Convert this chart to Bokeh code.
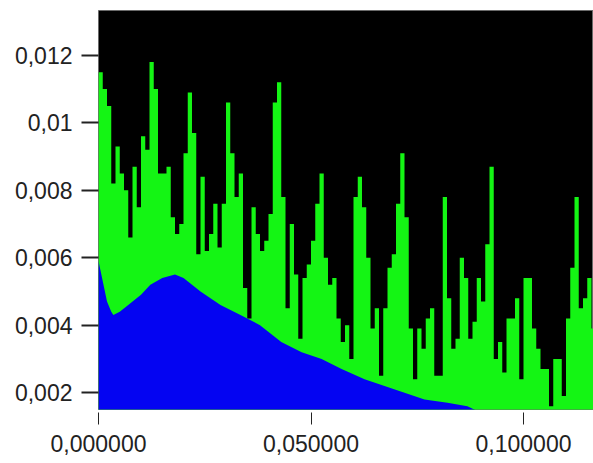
import numpy as np
from bokeh.plotting import figure
from bokeh.models import Range1d, FixedTicker
from bokeh.embed import file_html
from bokeh.resources import INLINE

# Green spectrum: one value per 0.001 frequency bin, starting at 0
green_step = 0.001
green_vals = [
    0.0115, 0.0110, 0.0105, 0.0082, 0.0093, 0.0085, 0.0080, 0.0066, 0.0087, 0.0075,
    0.0096, 0.0092, 0.0118, 0.0110, 0.0085, 0.0085, 0.0087, 0.0072, 0.0067, 0.0070,
    0.0091, 0.0109, 0.0097, 0.0061, 0.0084, 0.0062, 0.0067, 0.0076, 0.0063, 0.0076,
    0.0106, 0.0091, 0.0078, 0.0085, 0.0051, 0.0042, 0.0075, 0.0067, 0.0062, 0.0065,
    0.0073, 0.0106, 0.0112, 0.0078, 0.0045, 0.0070, 0.0055, 0.0036, 0.0054, 0.0058,
    0.0065, 0.0076, 0.0085, 0.0060, 0.0052, 0.0054, 0.0042, 0.0035, 0.0040, 0.0030,
    0.0078, 0.0084, 0.0075, 0.0060, 0.0039, 0.0045, 0.0025, 0.0045, 0.0057, 0.0061,
    0.0076, 0.0091, 0.0072, 0.0039, 0.0024, 0.0039, 0.0033, 0.0042, 0.0045, 0.0025,
    0.0025, 0.0078, 0.0048, 0.0033, 0.0036, 0.0060, 0.0054, 0.0036, 0.0041, 0.0054,
    0.0047, 0.0064, 0.0087, 0.0030, 0.0035, 0.0026, 0.0042, 0.0042, 0.0048, 0.0024,
    0.0054, 0.0054, 0.0039, 0.0033, 0.0027, 0.0027, 0.0016, 0.0030, 0.0030, 0.0019,
    0.0042, 0.0057, 0.0078, 0.0045, 0.0048, 0.0054, 0.0039,
]

# Blue smooth envelope
blue_x = [0.0, 0.001, 0.002, 0.003, 0.0035, 0.005, 0.007, 0.010, 0.0122, 0.015,
          0.018, 0.020, 0.024, 0.0287, 0.0334, 0.038, 0.043, 0.0478, 0.0525, 0.0572,
          0.0626, 0.0673, 0.072, 0.0767, 0.0821, 0.0868, 0.090, 0.1165]
blue_y = [0.0059, 0.0053, 0.0047, 0.0044, 0.0043, 0.0044, 0.0046, 0.0049, 0.0052, 0.0054,
          0.0055, 0.0054, 0.0050, 0.0046, 0.0043, 0.0040, 0.0035, 0.0032, 0.0030, 0.0027,
          0.0024, 0.0022, 0.0020, 0.0018, 0.0017, 0.0016, 0.0014, 0.0010]

x_ticks = [0.0, 0.05, 0.1]
x_labels = ["0,000000", "0,050000", "0,100000"]
y_ticks = [0.002, 0.004, 0.006, 0.008, 0.01, 0.012]
y_labels = ["0,002", "0,004", "0,006", "0,008", "0,01", "0,012"]

# bin edges for the stepped green fill (last value repeated to close the final bin)
green_x = np.arange(len(green_vals) + 1) * green_step
green_y = list(green_vals) + [green_vals[-1]]

p = figure(width=593, height=463, output_backend="svg", toolbar_location=None,
           x_range=Range1d(0.0, 0.11647), y_range=Range1d(0.0015, 0.01333),
           min_border_left=98, min_border_right=0, min_border_top=10, min_border_bottom=54)
p.border_fill_color = "white"
p.background_fill_color = "black"
p.outline_line_color = "#6a6a6a"
p.outline_line_width = 1
p.grid.visible = False

p.varea_step(x=green_x, y1=[0] * len(green_x), y2=green_y, step_mode="after",
             fill_color="#14F514")
p.varea(x=blue_x, y1=[0] * len(blue_x), y2=blue_y, fill_color="#0404F2")

xa = p.xaxis[0]
xa.ticker = FixedTicker(ticks=x_ticks)
xa.major_label_overrides = {t: l for t, l in zip(x_ticks, x_labels)}
xa.axis_line_color = None
xa.major_tick_in = -3
xa.major_tick_out = 15
xa.major_tick_line_color = "#222222"
xa.minor_tick_line_color = None
xa.major_label_standoff = 10
xa.major_label_text_font = "Liberation Sans"
xa.major_label_text_font_size = "23px"
xa.major_label_text_color = "#222222"

ya = p.yaxis[0]
ya.ticker = FixedTicker(ticks=y_ticks)
ya.major_label_overrides = {t: l for t, l in zip(y_ticks, y_labels)}
ya.axis_line_color = None
ya.major_tick_in = 0
ya.major_tick_out = 17
ya.major_tick_line_color = "#222222"
ya.major_tick_line_width = 2
ya.minor_tick_line_color = None
ya.major_label_standoff = 9
ya.major_label_text_font = "Liberation Sans"
ya.major_label_text_font_size = "23px"
ya.major_label_text_color = "#222222"

open("out.html", "w").write(file_html(p, INLINE))
